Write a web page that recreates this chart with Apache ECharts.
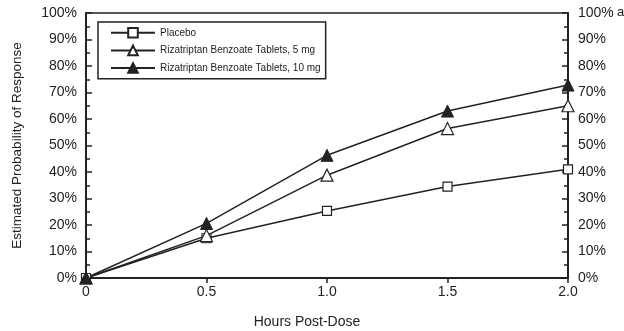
<!DOCTYPE html>
<html><head><meta charset="utf-8">
<script src="https://cdn.jsdelivr.net/npm/echarts@6/dist/echarts.min.js"></script>
<style>html,body{margin:0;padding:0;background:#fff}#c{width:624px;height:331px}</style>
</head><body><div id="c"></div>
<script>
const hours = [0, 0.5, 1.0, 1.5, 2.0];
const placebo = [0, 15, 25.3, 34.5, 41];
const riza5 = [0, 16, 38.8, 56.4, 65];
const riza10 = [0, 20.6, 46.3, 63, 72.8];
const seriesNames = ['Placebo', 'Rizatriptan Benzoate Tablets, 5 mg', 'Rizatriptan Benzoate Tablets, 10 mg'];
const xTickLabels = {0: '0', 0.5: '0.5', 1: '1.0', 1.5: '1.5', 2: '2.0'};
const yTickLabels = ['0%','10%','20%','30%','40%','50%','60%','70%','80%','90%','100%'];

const ink = '#222';
const font = 'Liberation Sans, Arial, sans-serif';
function pairs(vals){ return hours.map((h,i)=>[h, vals[i]]); }
const yAxisBase = {
  type: 'value', min: 0, max: 100, interval: 10,
  axisLine: {show: true, onZero: false, lineStyle: {color: ink, width: 2}},
  axisTick: {show: true, inside: true, length: 6, lineStyle: {color: ink, width: 1.5}},
  minorTick: {show: true, splitNumber: 2, length: 4, lineStyle: {color: ink, width: 1.5}},
  splitLine: {show: false},
  axisLabel: {color: ink, fontSize: 14, fontFamily: font, margin: 9,
    formatter: v => yTickLabels[Math.round(v/10)]}
};
const chart = echarts.init(document.getElementById('c'), null, {renderer: 'canvas'});
chart.setOption({
  animation: false,
  backgroundColor: '#fff',
  grid: {left: 86, right: 56, top: 13, bottom: 53, containLabel: false, outerBoundsMode: 'none'},
  xAxis: [{
    type: 'value', min: 0, max: 2, interval: 0.5,
    axisLine: {show: true, onZero: false, lineStyle: {color: ink, width: 2}},
    axisTick: {show: true, inside: false, length: 5, lineStyle: {color: ink, width: 1.5}},
    splitLine: {show: false},
    axisLabel: {color: ink, fontSize: 14, fontFamily: font, margin: 7,
      formatter: v => xTickLabels[v]},
    name: 'Hours Post-Dose', nameLocation: 'middle', nameGap: 37,
    nameTextStyle: {color: ink, fontSize: 14, fontFamily: font, padding: [0, 40, 0, 0]}
  }, {
    type: 'value', min: 0, max: 2, position: 'top',
    axisLine: {show: true, onZero: false, lineStyle: {color: ink, width: 1.5}},
    axisTick: {show: false}, axisLabel: {show: false}, splitLine: {show: false}
  }],
  yAxis: [Object.assign({}, yAxisBase, {
    position: 'left',
    name: 'Estimated Probability of Response', nameLocation: 'middle', nameGap: 62,
    nameTextStyle: {color: ink, fontSize: 13.5, fontFamily: font}
  }), Object.assign({}, yAxisBase, {position: 'right',
    axisLabel: Object.assign({}, yAxisBase.axisLabel, {margin: 10})})],
  legend: {
    orient: 'vertical', left: 98, top: 22,
    itemWidth: 44, itemHeight: 12, itemGap: 6,
    borderColor: ink, borderWidth: 1.5, padding: [5, 5, 5, 12],
    textStyle: {color: ink, fontSize: 10, fontFamily: font},
    data: seriesNames
  },
  series: [
    {name: seriesNames[0], type: 'line', data: pairs(placebo), symbol: 'rect', symbolSize: 9,
      lineStyle: {color: ink, width: 1.5}, itemStyle: {color: '#fff', borderColor: ink, borderWidth: 1.2}},
    {name: seriesNames[1], type: 'line', data: pairs(riza5), symbol: 'triangle', symbolSize: 12,
      lineStyle: {color: ink, width: 1.5}, itemStyle: {color: '#fff', borderColor: ink, borderWidth: 1.2}},
    {name: seriesNames[2], type: 'line', data: pairs(riza10), symbol: 'triangle', symbolSize: 12,
      lineStyle: {color: ink, width: 1.5}, itemStyle: {color: ink, borderColor: ink, borderWidth: 1}}
  ],
  graphic: [{type: 'text', left: 617, top: 6, style: {text: 'a', fill: ink, fontSize: 13, fontFamily: font}}]
});
</script></body></html>
